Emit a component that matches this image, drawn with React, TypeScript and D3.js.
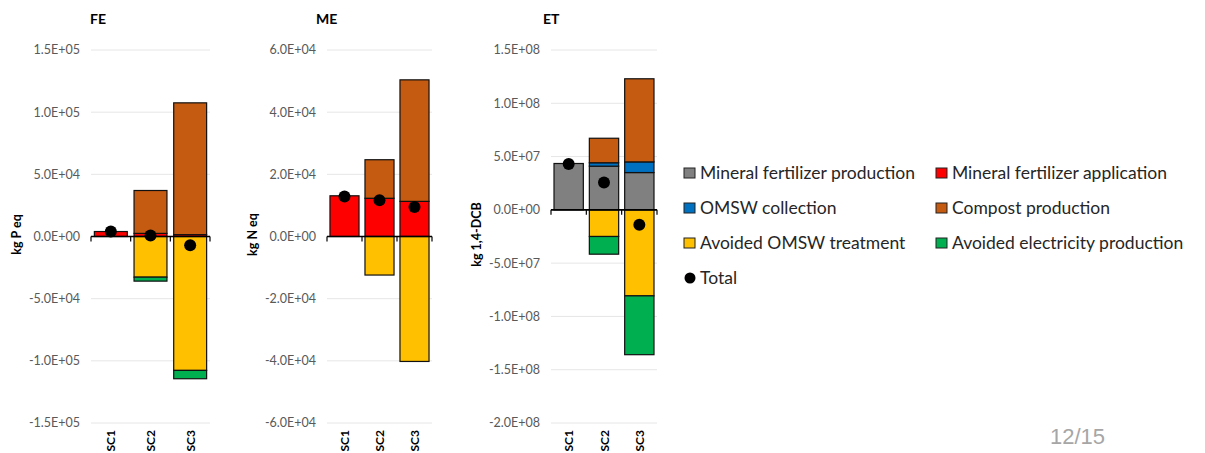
import React from "react";
import * as d3 from "d3";

const scenarios = ["SC1", "SC2", "SC3"];
const seriesNames = [
  "Mineral fertilizer production",
  "Mineral fertilizer application",
  "OMSW collection",
  "Compost production",
  "Avoided OMSW treatment",
  "Avoided electricity production",
];
const seriesColors = ["#808080", "#FF0000", "#0070C0", "#C55A11", "#FFC000", "#00B050"];

// FE (kg P eq)
const feMineralProd = [0, 0, 0];
const feMineralApp = [4000, 2500, 1500];
const feOmswColl = [0, 0, 0];
const feCompost = [0, 34500, 106000];
const feAvoidedOmsw = [0, -32700, -107700];
const feAvoidedElec = [0, -3200, -6700];
const feTotal = [4000, 800, -7000];
const feTicks = [-1.5e5, -1e5, -5e4, 0, 5e4, 1e5, 1.5e5];

// ME (kg N eq)
const meMineralProd = [0, 0, 0];
const meMineralApp = [13100, 12300, 11300];
const meOmswColl = [0, 0, 0];
const meCompost = [0, 12400, 39100];
const meAvoidedOmsw = [0, -12400, -40200];
const meAvoidedElec = [0, 0, 0];
const meTotal = [12900, 11700, 9500];
const meTicks = [-6e4, -4e4, -2e4, 0, 2e4, 4e4, 6e4];

// ET (kg 1,4-DCB)
const etMineralProd = [4.35e7, 4.1e7, 3.5e7];
const etMineralApp = [0, 0, 0];
const etOmswColl = [0, 3.2e6, 1.0e7];
const etCompost = [0, 2.3e7, 7.8e7];
const etAvoidedOmsw = [0, -2.5e7, -8.07e7];
const etAvoidedElec = [0, -1.66e7, -5.52e7];
const etTotal = [4.3e7, 2.56e7, -1.4e7];
const etTicks = [-2e8, -1.5e8, -1e8, -5e7, 0, 5e7, 1e8, 1.5e8];

const FONT = "Lato, 'Open Sans', sans-serif";

function fmt(v: number) {
  if (v === 0) return "0.0E+00";
  const s = v.toExponential(1).toUpperCase();
  const m = s.match(/^(-?[\d.]+)E([+-])(\d+)$/);
  if (!m) return s;
  return `${m[1]}E${m[2]}${m[3].padStart(2, "0")}`;
}

type PanelProps = {
  title: string;
  yLabel: string;
  series: number[][];
  total: number[];
  ticks: number[];
  x0: number;
  x1: number;
  titleX: number;
  yLabelX: number;
};

function Panel({ title, yLabel, series, total, ticks, x0, x1, titleX, yLabelX }: PanelProps) {
  const top = 50;
  const bottom = 423;
  const y = d3.scaleLinear().domain([ticks[0], ticks[ticks.length - 1]]).range([bottom, top]);
  const x = d3.scaleBand<string>().domain(scenarios).range([x0, x1]).paddingInner(0.17).paddingOuter(0.085);
  const rows = scenarios.map((s, i) => {
    const r: any = { sc: s };
    seriesNames.forEach((n, k) => (r[n] = series[k][i]));
    return r;
  });
  const stacked = d3.stack<any>().keys(seriesNames).offset(d3.stackOffsetDiverging)(rows);
  const y0 = y(0);
  const boundaries = [0, 1, 2, 3].map((i) => x0 + ((x1 - x0) * i) / 3);
  return (
    <g>
      <text x={titleX} y={24} fontFamily={FONT} fontWeight="bold" fontSize={14} fill="#000">
        {title}
      </text>
      {ticks.map((t) => (
        <g key={t}>
          <line x1={x0} x2={x1} y1={y(t)} y2={y(t)} stroke="#e6e6e6" strokeWidth={1} />
          <text x={x0 - 11} y={y(t)} dy="0.35em" textAnchor="end" fontFamily={FONT} fontSize={12.5} fill="#595959">
            {fmt(t)}
          </text>
        </g>
      ))}
      <text
        transform={`translate(${yLabelX},${(top + bottom) / 2 - 2}) rotate(-90)`}
        textAnchor="middle"
        fontFamily={FONT}
        fontWeight="bold"
        fontSize={12.5}
        fill="#000"
      >
        {yLabel}
      </text>
      {stacked.map((layer, k) =>
        layer.map((d, i) => {
          const a = y(d[0]);
          const b = y(d[1]);
          const h = Math.abs(a - b);
          if (h < 0.01) return null;
          return (
            <rect
              key={`${k}-${i}`}
              x={x(scenarios[i])}
              width={x.bandwidth()}
              y={Math.min(a, b)}
              height={h}
              fill={seriesColors[k]}
              stroke="#111"
              strokeWidth={1.2}
            />
          );
        })
      )}
      <line x1={x0} x2={x1} y1={y0} y2={y0} stroke="#000" strokeWidth={1.6} />
      {boundaries.map((bx, i) => (
        <line key={i} x1={bx} x2={bx} y1={y0} y2={y0 + 5} stroke="#000" strokeWidth={1.2} />
      ))}
      {total.map((t, i) => (
        <circle key={i} cx={(x(scenarios[i]) as number) + x.bandwidth() / 2} cy={y(t)} r={6} fill="#000" />
      ))}
      {scenarios.map((s) => (
        <text
          key={s}
          transform={`translate(${(x(s) as number) + x.bandwidth() / 2 + 4.5},${430}) rotate(-90)`}
          textAnchor="end"
          fontFamily={FONT}
          fontWeight="bold"
          fontSize={12}
          fill="#000"
        >
          {s}
        </text>
      ))}
    </g>
  );
}

export default function App() {
  const legendCols = [684, 936];
  const legendRows = [173, 208, 243, 278];
  return (
    <svg width={1205} height={453} style={{ position: "absolute", left: 0, top: 0, background: "#fff" }}>
      <rect width={1205} height={453} fill="#fff" />
      <Panel
        title="FE"
        yLabel="kg P eq"
        series={[feMineralProd, feMineralApp, feOmswColl, feCompost, feAvoidedOmsw, feAvoidedElec]}
        total={feTotal}
        ticks={feTicks}
        x0={91}
        x1={210}
        titleX={90}
        yLabelX={21}
      />
      <Panel
        title="ME"
        yLabel="kg N eq"
        series={[meMineralProd, meMineralApp, meOmswColl, meCompost, meAvoidedOmsw, meAvoidedElec]}
        total={meTotal}
        ticks={meTicks}
        x0={327}
        x1={432}
        titleX={316}
        yLabelX={257}
      />
      <Panel
        title="ET"
        yLabel="kg 1,4-DCB"
        series={[etMineralProd, etMineralApp, etOmswColl, etCompost, etAvoidedOmsw, etAvoidedElec]}
        total={etTotal}
        ticks={etTicks}
        x0={551}
        x1={657}
        titleX={543}
        yLabelX={481}
      />
      {seriesNames.map((n, k) => {
        const cx = legendCols[k % 2];
        const cy = legendRows[Math.floor(k / 2)];
        return (
          <g key={n}>
            <rect x={cx} y={cy - 5} width={11} height={10} fill={seriesColors[k]} stroke="#222" strokeWidth={1} />
            <text x={cx + 16} y={cy} dy="0.35em" fontFamily={FONT} fontSize={17.5} fill="#262626">
              {n}
            </text>
          </g>
        );
      })}
      <circle cx={690} cy={legendRows[3]} r={5.5} fill="#000" />
      <text x={700} y={legendRows[3]} dy="0.35em" fontFamily={FONT} fontSize={17.5} fill="#262626">
        Total
      </text>
      <text x={1050} y={444} fontFamily="'Liberation Sans', Arial, sans-serif" fontSize={22} fill="#a6a6a6">
        12/15
      </text>
    </svg>
  );
}
